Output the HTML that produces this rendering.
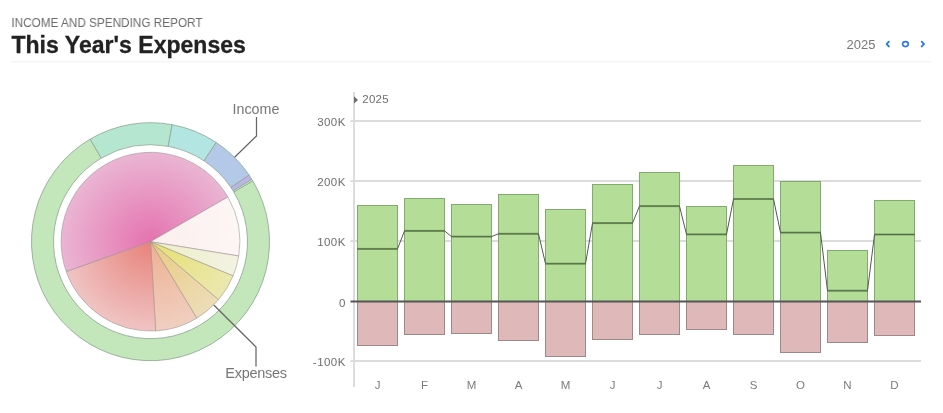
<!DOCTYPE html>
<html><head><meta charset="utf-8"><title>Income and Spending Report</title>
<style>
html,body{margin:0;padding:0;background:#fff;}
body{width:943px;height:413px;overflow:hidden;position:relative;font-family:"Liberation Sans",sans-serif;}
.sub{position:absolute;left:0;padding-left:12.2px;top:16px;font-size:12.7px;color:#6b6b6b;letter-spacing:0;transform:scaleX(0.927);transform-origin:0 0;white-space:nowrap;line-height:14px;}
.title{position:absolute;left:0;padding-left:11.4px;top:30px;font-size:23px;font-weight:bold;color:#222;-webkit-text-stroke:0.3px #222;letter-spacing:0.03px;white-space:nowrap;line-height:30px;}
.rule{position:absolute;left:11px;top:62px;width:921px;height:1px;background:#f0f0f0;}
.year{position:absolute;left:0;padding-left:846.4px;top:37px;font-size:13px;color:#777;line-height:15px;letter-spacing:0.08px;}
body>*{will-change:transform;}
svg{position:absolute;left:0;top:0;font-family:"Liberation Sans",sans-serif;}
</style></head><body>
<div class="sub">INCOME AND SPENDING REPORT</div>
<div class="title">This Year's Expenses</div>
<div class="year">2025</div>
<svg width="943" height="413" viewBox="0 0 943 413">
<g fill="none" stroke="#2f7cdb" stroke-width="1.9" stroke-linecap="round" stroke-linejoin="round">
<path d="M888.85 41.65L886.6 44.05L888.85 46.45"/>
<ellipse cx="905.45" cy="44.1" rx="2.85" ry="2.5" stroke-width="1.6"/>
<path d="M921.75 41.65L924.0 44.05L921.75 46.45"/>
</g>
<defs><radialGradient id="gPink" gradientUnits="userSpaceOnUse" cx="150.5" cy="241.7" r="89.4"><stop offset="0" stop-color="#e573af"/><stop offset="1" stop-color="#eab5d3"/></radialGradient><radialGradient id="gWhite" gradientUnits="userSpaceOnUse" cx="150.5" cy="241.7" r="89.4"><stop offset="0" stop-color="#fbeeee"/><stop offset="1" stop-color="#fcf6f4"/></radialGradient><radialGradient id="gCream" gradientUnits="userSpaceOnUse" cx="150.5" cy="241.7" r="89.4"><stop offset="0" stop-color="#eeeec8"/><stop offset="1" stop-color="#f2f2e2"/></radialGradient><radialGradient id="gYellow" gradientUnits="userSpaceOnUse" cx="150.5" cy="241.7" r="89.4"><stop offset="0" stop-color="#e6e070"/><stop offset="1" stop-color="#ebe8b0"/></radialGradient><radialGradient id="gTan" gradientUnits="userSpaceOnUse" cx="150.5" cy="241.7" r="89.4"><stop offset="0" stop-color="#e8cc80"/><stop offset="1" stop-color="#eddcb8"/></radialGradient><radialGradient id="gPeach" gradientUnits="userSpaceOnUse" cx="150.5" cy="241.7" r="89.4"><stop offset="0" stop-color="#eeb090"/><stop offset="1" stop-color="#f0cfc0"/></radialGradient><radialGradient id="gSalmon" gradientUnits="userSpaceOnUse" cx="150.5" cy="241.7" r="89.4"><stop offset="0" stop-color="#e8827a"/><stop offset="1" stop-color="#efc4c4"/></radialGradient></defs><rect x="11" y="61.3" width="920.5" height="1" fill="#eeeeee"/><path d="M252.72 180.77A119.0 119.0 0 1 1 90.10 139.17L101.27 158.12A97.0 97.0 0 1 0 233.82 192.03Z" fill="#c3e6ba" stroke="#8fa994" stroke-opacity="0.85" stroke-width="1"/><path d="M90.10 139.17A119.0 119.0 0 0 1 172.19 124.69L168.18 146.32A97.0 97.0 0 0 0 101.27 158.12Z" fill="#b5e6d0" stroke="#8fa994" stroke-opacity="0.85" stroke-width="1"/><path d="M172.19 124.69A119.0 119.0 0 0 1 216.18 142.47L204.04 160.81A97.0 97.0 0 0 0 168.18 146.32Z" fill="#b3e6e3" stroke="#8fa994" stroke-opacity="0.85" stroke-width="1"/><path d="M216.18 142.47A119.0 119.0 0 0 1 249.16 175.16L230.92 187.46A97.0 97.0 0 0 0 204.04 160.81Z" fill="#b4c8e8" stroke="#8fa994" stroke-opacity="0.85" stroke-width="1"/><path d="M249.16 175.16A119.0 119.0 0 0 1 251.86 179.35L233.12 190.87A97.0 97.0 0 0 0 230.92 187.46Z" fill="#bcb4e8" stroke="#8fa994" stroke-opacity="0.85" stroke-width="1"/><path d="M251.86 179.35A119.0 119.0 0 0 1 252.72 180.77L233.82 192.03A97.0 97.0 0 0 0 233.12 190.87Z" fill="#cbebd2" stroke="#8fa994" stroke-opacity="0.85" stroke-width="1"/><path d="M150.5 241.7L66.28 271.69A89.4 89.4 0 0 1 227.92 197.00Z" fill="url(#gPink)" stroke="#9a9090" stroke-opacity="0.55" stroke-width="1"/><path d="M150.5 241.7L227.92 197.00A89.4 89.4 0 0 1 238.75 255.99Z" fill="url(#gWhite)" stroke="#9a9090" stroke-opacity="0.55" stroke-width="1"/><path d="M150.5 241.7L238.75 255.99A89.4 89.4 0 0 1 233.09 275.91Z" fill="url(#gCream)" stroke="#9a9090" stroke-opacity="0.55" stroke-width="1"/><path d="M150.5 241.7L233.09 275.91A89.4 89.4 0 0 1 218.48 299.76Z" fill="url(#gYellow)" stroke="#9a9090" stroke-opacity="0.55" stroke-width="1"/><path d="M150.5 241.7L218.48 299.76A89.4 89.4 0 0 1 196.81 318.17Z" fill="url(#gTan)" stroke="#9a9090" stroke-opacity="0.55" stroke-width="1"/><path d="M150.5 241.7L196.81 318.17A89.4 89.4 0 0 1 155.65 330.95Z" fill="url(#gPeach)" stroke="#9a9090" stroke-opacity="0.55" stroke-width="1"/><path d="M150.5 241.7L155.65 330.95A89.4 89.4 0 0 1 66.28 271.69Z" fill="url(#gSalmon)" stroke="#9a9090" stroke-opacity="0.55" stroke-width="1"/><path d="M256.5 117V136L234.6 157.2" fill="none" stroke="#666" stroke-width="1.25"/><path d="M213.8 305L256 347V366.5" fill="none" stroke="#666" stroke-width="1.25"/><text x="256" y="114" text-anchor="middle" font-size="14.3" fill="#777">Income</text><text x="256" y="377.9" text-anchor="middle" font-size="14.5" letter-spacing="-0.3" fill="#777">Expenses</text><rect x="350.5" y="120" width="570.5" height="2" fill="#dcdcdc"/><rect x="350.5" y="180" width="570.5" height="2" fill="#dcdcdc"/><rect x="350.5" y="240" width="570.5" height="2" fill="#dcdcdc"/><rect x="350.5" y="360" width="570.5" height="2" fill="#dcdcdc"/><rect x="353" y="92" width="2" height="295" fill="#dcdcdc"/><text x="345.8" y="126.0" text-anchor="end" font-size="11.5" letter-spacing="0.45" fill="#6e6e6e">300K</text><text x="345.8" y="186.0" text-anchor="end" font-size="11.5" letter-spacing="0.45" fill="#6e6e6e">200K</text><text x="345.8" y="246.0" text-anchor="end" font-size="11.5" letter-spacing="0.45" fill="#6e6e6e">100K</text><text x="345.8" y="366.0" text-anchor="end" font-size="11.5" letter-spacing="0.45" fill="#6e6e6e">-100K</text><text x="345.8" y="306.5" text-anchor="end" font-size="11.5" letter-spacing="0.45" fill="#6e6e6e">0</text><path d="M354 96.2L358 99.9L354 103.6Z" fill="#6c6c6c"/><text x="362.3" y="103.2" font-size="11.5" letter-spacing="0.25" fill="#6e6e6e">2025</text><rect x="357.5" y="205.5" width="40" height="96" fill="#b4de98" stroke="#82ab6f" stroke-width="1"/><rect x="357.5" y="301.5" width="40" height="44.0" fill="#dfb9b9" stroke="#a18888" stroke-width="1"/><text x="377.5" y="388.5" text-anchor="middle" font-size="11.5" fill="#7b7b7b">J</text><rect x="404.5" y="198.5" width="40" height="103" fill="#b4de98" stroke="#82ab6f" stroke-width="1"/><rect x="404.5" y="301.5" width="40" height="33.0" fill="#dfb9b9" stroke="#a18888" stroke-width="1"/><text x="424.5" y="388.5" text-anchor="middle" font-size="11.5" fill="#7b7b7b">F</text><rect x="451.5" y="204.5" width="40" height="97" fill="#b4de98" stroke="#82ab6f" stroke-width="1"/><rect x="451.5" y="301.5" width="40" height="32.0" fill="#dfb9b9" stroke="#a18888" stroke-width="1"/><text x="471.5" y="388.5" text-anchor="middle" font-size="11.5" fill="#7b7b7b">M</text><rect x="498.5" y="194.5" width="40" height="107" fill="#b4de98" stroke="#82ab6f" stroke-width="1"/><rect x="498.5" y="301.5" width="40" height="39.0" fill="#dfb9b9" stroke="#a18888" stroke-width="1"/><text x="518.5" y="388.5" text-anchor="middle" font-size="11.5" fill="#7b7b7b">A</text><rect x="545.5" y="209.5" width="40" height="92" fill="#b4de98" stroke="#82ab6f" stroke-width="1"/><rect x="545.5" y="301.5" width="40" height="55.0" fill="#dfb9b9" stroke="#a18888" stroke-width="1"/><text x="565.5" y="388.5" text-anchor="middle" font-size="11.5" fill="#7b7b7b">M</text><rect x="592.5" y="184.5" width="40" height="117" fill="#b4de98" stroke="#82ab6f" stroke-width="1"/><rect x="592.5" y="301.5" width="40" height="38.0" fill="#dfb9b9" stroke="#a18888" stroke-width="1"/><text x="612.5" y="388.5" text-anchor="middle" font-size="11.5" fill="#7b7b7b">J</text><rect x="639.5" y="172.5" width="40" height="129" fill="#b4de98" stroke="#82ab6f" stroke-width="1"/><rect x="639.5" y="301.5" width="40" height="33.0" fill="#dfb9b9" stroke="#a18888" stroke-width="1"/><text x="659.5" y="388.5" text-anchor="middle" font-size="11.5" fill="#7b7b7b">J</text><rect x="686.5" y="206.5" width="40" height="95" fill="#b4de98" stroke="#82ab6f" stroke-width="1"/><rect x="686.5" y="301.5" width="40" height="28.0" fill="#dfb9b9" stroke="#a18888" stroke-width="1"/><text x="706.5" y="388.5" text-anchor="middle" font-size="11.5" fill="#7b7b7b">A</text><rect x="733.5" y="165.5" width="40" height="136" fill="#b4de98" stroke="#82ab6f" stroke-width="1"/><rect x="733.5" y="301.5" width="40" height="33.0" fill="#dfb9b9" stroke="#a18888" stroke-width="1"/><text x="753.5" y="388.5" text-anchor="middle" font-size="11.5" fill="#7b7b7b">S</text><rect x="780.5" y="181.5" width="40" height="120" fill="#b4de98" stroke="#82ab6f" stroke-width="1"/><rect x="780.5" y="301.5" width="40" height="51.0" fill="#dfb9b9" stroke="#a18888" stroke-width="1"/><text x="800.5" y="388.5" text-anchor="middle" font-size="11.5" fill="#7b7b7b">O</text><rect x="827.5" y="250.5" width="40" height="51" fill="#b4de98" stroke="#82ab6f" stroke-width="1"/><rect x="827.5" y="301.5" width="40" height="41.0" fill="#dfb9b9" stroke="#a18888" stroke-width="1"/><text x="847.5" y="388.5" text-anchor="middle" font-size="11.5" fill="#7b7b7b">N</text><rect x="874.5" y="200.5" width="40" height="101" fill="#b4de98" stroke="#82ab6f" stroke-width="1"/><rect x="874.5" y="301.5" width="40" height="34.0" fill="#dfb9b9" stroke="#a18888" stroke-width="1"/><text x="894.5" y="388.5" text-anchor="middle" font-size="11.5" fill="#7b7b7b">D</text><rect x="350.5" y="300.5" width="570.5" height="2" fill="#555"/><polyline points="357.5,248.9 397.5,248.9 404.5,230.9 444.5,230.9 451.5,236.6 491.5,236.6 498.5,233.8 538.5,233.8 545.5,263.7 585.5,263.7 592.5,223.1 632.5,223.1 639.5,206.1 679.5,206.1 686.5,234.4 726.5,234.4 733.5,199.0 773.5,199.0 780.5,232.6 820.5,232.6 827.5,290.7 867.5,290.7 874.5,234.5 914.5,234.5" fill="none" stroke="#555" stroke-width="1"/><rect x="357" y="247.9" width="41" height="2" fill="#587a44" fill-opacity="0.64"/><rect x="404" y="229.9" width="41" height="2" fill="#587a44" fill-opacity="0.64"/><rect x="451" y="235.6" width="41" height="2" fill="#587a44" fill-opacity="0.64"/><rect x="498" y="232.8" width="41" height="2" fill="#587a44" fill-opacity="0.64"/><rect x="545" y="262.7" width="41" height="2" fill="#587a44" fill-opacity="0.64"/><rect x="592" y="222.1" width="41" height="2" fill="#587a44" fill-opacity="0.64"/><rect x="639" y="205.1" width="41" height="2" fill="#587a44" fill-opacity="0.64"/><rect x="686" y="233.4" width="41" height="2" fill="#587a44" fill-opacity="0.64"/><rect x="733" y="198.0" width="41" height="2" fill="#587a44" fill-opacity="0.64"/><rect x="780" y="231.6" width="41" height="2" fill="#587a44" fill-opacity="0.64"/><rect x="827" y="289.7" width="41" height="2" fill="#587a44" fill-opacity="0.64"/><rect x="874" y="233.5" width="41" height="2" fill="#587a44" fill-opacity="0.64"/>
</svg>
</body></html>
